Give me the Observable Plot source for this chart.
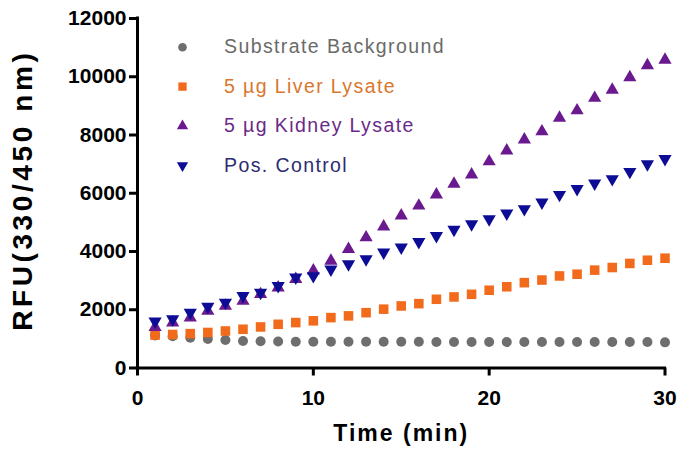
<!DOCTYPE html>
<html><head><meta charset="utf-8">
<script src="https://cdn.jsdelivr.net/npm/d3@7"></script>
<script src="https://cdn.jsdelivr.net/npm/@observablehq/plot@0.6"></script>
<style>body{margin:0;background:#fff}</style>
</head><body><div id="chart"></div>
<script>
const time = [1,2,3,4,5,6,7,8,9,10,11,12,13,14,15,16,17,18,19,20,21,22,23,24,25,26,27,28,29,30];
const substrate = [1120,1090,1040,1000,960,930,920,910,900,900,900,900,900,900,900,900,890,890,890,890,890,890,890,890,890,890,890,890,890,880];
const liver = [1130,1150,1180,1220,1270,1330,1410,1500,1560,1620,1730,1790,1900,2020,2130,2210,2360,2440,2530,2670,2790,2930,3020,3160,3220,3360,3450,3590,3700,3770];
const kidney = [1400,1560,1730,1960,2130,2300,2530,2760,3050,3340,3680,4080,4480,4850,5230,5570,5950,6320,6640,7090,7460,7840,8120,8590,8840,9270,9550,9980,10390,10580];
const control = [1600,1680,1900,2110,2250,2480,2590,2820,3110,3160,3390,3570,3740,3970,4140,4330,4540,4750,4940,5110,5310,5460,5690,5950,6150,6340,6490,6740,7000,7180];

const seriesNames = ["Substrate Background", "5 µg Liver Lysate", "5 µg Kidney Lysate", "Pos. Control"];
const seriesColors = ["#6e6e6e", "#f26b1c", "#6a1a8e", "#0c0c94"];
const textColors = ["#6a6a6a", "#d9772e", "#6a2a88", "#2c2c72"];
const symbols = ["circle", "square", "triangle", "triangle"];
const rotations = [0, 0, 0, 180];
const radii = [5, 5.4, 4.9, 4.9];
const xTicks = [0, 10, 20, 30];
const yTicks = [0, 2000, 4000, 6000, 8000, 10000, 12000];
const yTitle = "RFU(330/450 nm)";
const xTitle = "Time (min)";

const values = [substrate, liver, kidney, control];
const rows = values.flatMap((v, s) => v.map((val, i) => ({time: time[i], value: val, s})));

const marks = [];
values.forEach((v, s) => {
  marks.push(Plot.dot(rows.filter(d => d.s === s), {
    x: "time", y: "value", symbol: symbols[s], fill: seriesColors[s],
    r: radii[s], rotate: rotations[s]
  }));
});
seriesNames.forEach((name, s) => {
  marks.push(Plot.dot([name], {
    frameAnchor: "top-left", dx: 45, dy: 28.7 + 39.4 * s,
    symbol: symbols[s], fill: seriesColors[s], r: radii[s] - 0.7, rotate: rotations[s]
  }));
  marks.push(Plot.text([name], {
    frameAnchor: "top-left", dx: 86.5, dy: 28.7 + 39.4 * s, text: d => d,
    textAnchor: "start", lineAnchor: "middle", fill: textColors[s], fontSize: 19.5
  }));
});
marks.push(
  Plot.ruleY([0], {stroke: "black", strokeWidth: 3, strokeLinecap: "square"}),
  Plot.ruleX([0], {stroke: "black", strokeWidth: 3, strokeLinecap: "square"}),
  Plot.axisX({ticks: xTicks, tickSize: 8, tickPadding: 14, fontSize: 21, fontWeight: "bold",
    strokeWidth: 3, label: null, tickFormat: d3.format("d")}),
  Plot.axisY({ticks: yTicks, tickSize: 8, tickPadding: 3, fontSize: 21, fontWeight: "bold",
    strokeWidth: 3, label: null, tickFormat: d3.format("d")}),
  Plot.text([yTitle], {frameAnchor: "left", dx: -114, dy: -3, rotate: -90, text: d => d,
    fontSize: 28, fontWeight: "bold", textAnchor: "middle", lineAnchor: "middle"}),
  Plot.text([xTitle], {frameAnchor: "bottom", dy: 66, text: d => d,
    fontSize: 23, fontWeight: "bold", lineAnchor: "middle"})
);

const chart = Plot.plot({
  width: 679, height: 454,
  marginLeft: 137, marginRight: 14.5, marginTop: 18, marginBottom: 86.5,
  x: {domain: [0, 30]},
  y: {domain: [0, 12000]},
  style: {fontFamily: "'Liberation Sans', Arial, sans-serif", background: "white", color: "black"},
  marks
});
document.getElementById("chart").appendChild(chart);
chart.querySelectorAll("text").forEach(t => {
  const s = t.textContent;
  if (s === yTitle) t.style.letterSpacing = "3.6px";
  else if (s === xTitle) t.style.letterSpacing = "2px";
  else if (seriesNames.includes(s)) t.style.letterSpacing = "1.4px";
});
</script>
</body></html>
